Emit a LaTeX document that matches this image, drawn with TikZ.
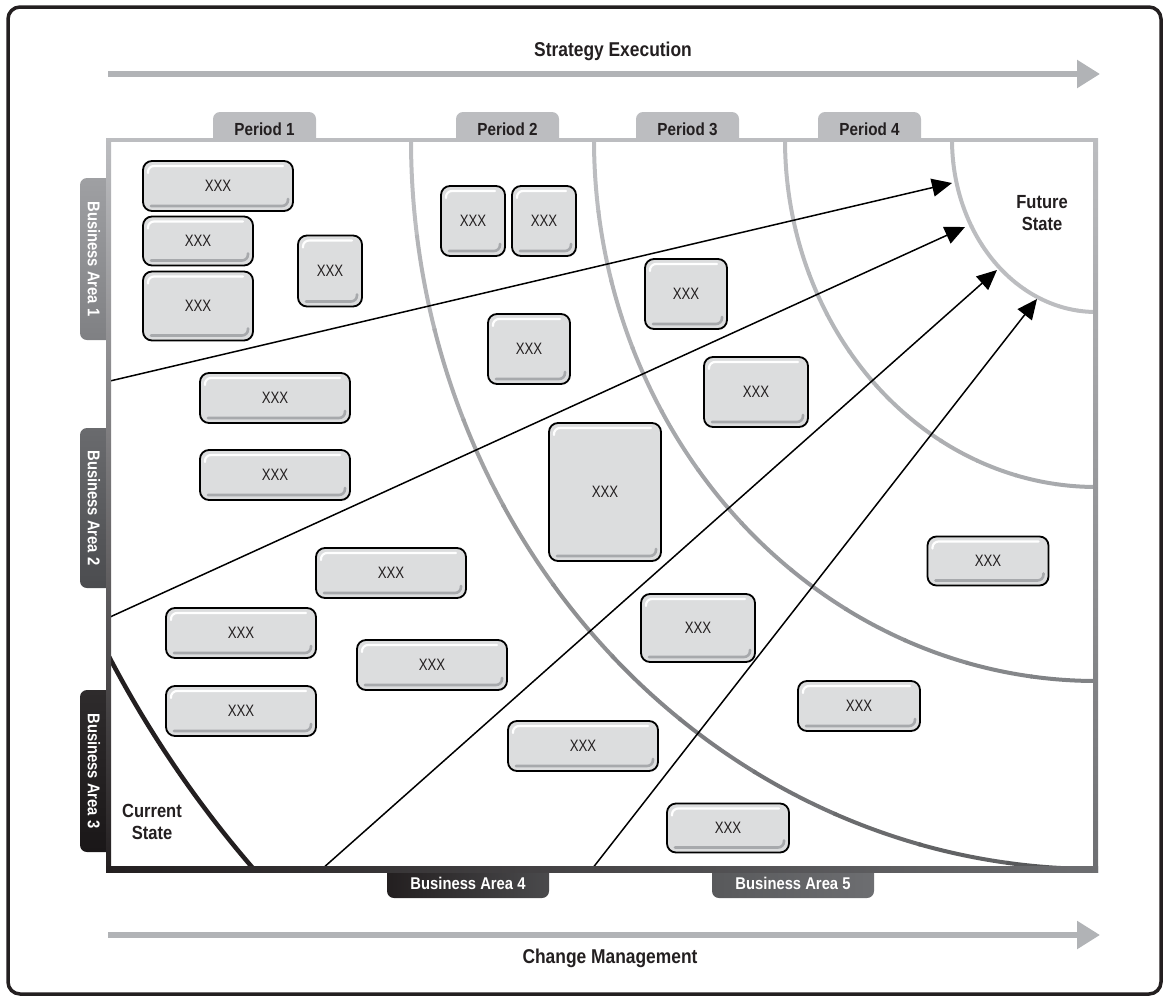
\documentclass[tikz,border=0pt]{standalone}
\usepackage{fontspec}
\setmainfont{Liberation Sans}[FakeStretch=0.8]
\newfontfamily\headfont{Liberation Sans}[FakeStretch=0.87]
\usetikzlibrary{arrows.meta}

\definecolor{framelight}{HTML}{BCBDC0}
\definecolor{framedark}{HTML}{231F20}
\definecolor{framemid}{HTML}{6D6E71}
\definecolor{boxfill}{HTML}{DCDDDE}
\definecolor{boxline}{HTML}{A7A9AC}
\definecolor{arrowgray}{HTML}{B1B3B6}
\definecolor{textdark}{HTML}{231F20}
\definecolor{ring2}{HTML}{58595B}
\definecolor{ring3}{HTML}{808285}
\definecolor{ring4}{HTML}{A7A9AC}
\definecolor{ba1top}{HTML}{9FA0A3}
\definecolor{ba1bot}{HTML}{7F8083}
\definecolor{ba2top}{HTML}{6A6B6E}
\definecolor{ba2bot}{HTML}{4B4C4F}
\definecolor{ba3top}{HTML}{2E2B2C}
\definecolor{ba3bot}{HTML}{1A1718}
\definecolor{ba4a}{HTML}{231F20}
\definecolor{ba4b}{HTML}{4A4A4C}
\definecolor{ba5a}{HTML}{58595B}
\definecolor{ba5b}{HTML}{6D6E71}

\tikzset{
  xbox/.style={draw=black, line width=1.8pt, fill=boxfill, rounded corners=9pt,
    inner sep=0pt, text=textdark, font=\fontsize{16.5}{18}\selectfont,
    path picture={
      \draw[white, line width=2.2pt, line cap=round, rounded corners=6pt]
        ([xshift=5pt,yshift=-12pt]path picture bounding box.north west)
        -- ([xshift=5pt,yshift=-5pt]path picture bounding box.north west)
        -- ([xshift=-10pt,yshift=-5pt]path picture bounding box.north east);
      \draw[boxline, line width=2.6pt, line cap=round, rounded corners=6pt]
        ([xshift=8pt,yshift=5pt]path picture bounding box.south west)
        -- ([xshift=-5pt,yshift=5pt]path picture bounding box.south east)
        -- ([xshift=-5pt,yshift=12pt]path picture bounding box.south east);
    }},
  titletext/.style={font=\headfont\bfseries\fontsize{20}{22}\selectfont, text=textdark},
  tabtext/.style={font=\headfont\bfseries\fontsize{17.5}{19}\selectfont, text=textdark},
  sidetext/.style={font=\headfont\bfseries\fontsize{17}{19}\selectfont, text=white},
  statetext/.style={font=\headfont\bfseries\fontsize{19}{22}\selectfont, text=textdark, align=center},
  flow/.style={line width=5.5pt, arrowgray, -{Triangle[length=23pt,width=27pt]}},
  lead/.style={line width=1.5pt, black, -{Triangle[length=20pt,width=18pt]}}
}

\begin{document}
\begin{tikzpicture}[x=1pt,y=1pt]
\useasboundingbox (0,0) rectangle (1169,-1001);
% outer frame
\draw[line width=3.5pt, framedark, rounded corners=12pt] (8,-7) rectangle (1161,-994);

% strategy execution / change management
\coordinate (se-a) at (108,-74);
\coordinate (se-b) at (1100,-74);
\coordinate (cm-a) at (108,-935);
\coordinate (cm-b) at (1100,-935);
\draw[flow] (se-a) -- (se-b);
\draw[flow] (cm-a) -- (cm-b);
\node[titletext, anchor=base] (se) at (613,-56) {Strategy Execution};
\node[titletext, anchor=base] (cm) at (610,-963) {Change Management};

% period tabs
\foreach \n/\xa/\xb in {1/213/316, 2/456/559, 3/636/739, 4/818/921}
{
  \fill[framelight] (\xa,-141) -- (\xa,-119) arc[start angle=180, end angle=90, radius=7]
    -- ({\xb-7},-112) arc[start angle=90, end angle=0, radius=7] -- (\xb,-141) -- cycle;
  \node[tabtext, anchor=base] (p\n) at ({(\xa+\xb)/2},-135) {Period \n};
}

% business area tabs, left
\foreach \n/\ya/\yb/\ca/\cb in {1/178/340/ba1top/ba1bot, 2/428/588/ba2top/ba2bot, 3/690/852/ba3top/ba3bot}
{
  \shade[top color=\ca, bottom color=\cb] (110,-\ya) -- (87,-\ya)
    arc[start angle=90, end angle=180, radius=7] -- (80,{-\yb+7})
    arc[start angle=180, end angle=270, radius=7] -- (110,-\yb) -- cycle;
  \node[sidetext, rotate=-90] (ba\n) at (94,{-(\ya+\yb)/2}) {Business Area \n};
}

% business area tabs, bottom
\foreach \n/\xa/\xb/\ca/\cb in {4/387/549/ba4a/ba4b, 5/712/874/ba5a/ba5b}
{
  \shade[left color=\ca, right color=\cb] (\xa,-868) -- (\xa,-891)
    arc[start angle=180, end angle=270, radius=7] -- ({\xb-7},-898)
    arc[start angle=270, end angle=360, radius=7] -- (\xb,-868) -- cycle;
  \node[sidetext, anchor=base] (ba\n) at ({(\xa+\xb)/2},-889) {Business Area \n};
}

% rings round the future state
\coordinate (fs) at (1096,-140);
\begin{scope}
  \clip (110,-141) rectangle (1095,-868);
  \draw[line width=4.5pt, framedark] (fs) ++(200:1114) arc[start angle=200, end angle=230, radius=1114];
  \foreach \rx/\ry/\cb in {685/729/ring2, 502/541/ring3, 311/347/ring4, 144/172/framelight}
    \foreach \i in {0,...,11}
    {
      \pgfmathsetmacro\p{100*\i/11}
      \pgfmathsetmacro\ang{180+7.5*\i}
      \draw[line width=4pt, \cb!\p!framelight] (fs) ++({\rx*cos(\ang)},{\ry*sin(\ang)})
        arc[start angle=\ang, end angle={\ang+7.7}, x radius=\rx, y radius=\ry];
    }
\end{scope}

\node[statetext] (future) at (1042,-213) {Future\\State};
\node[statetext] (current) at (152,-822) {Current\\State};

% arrows to the future state
\coordinate (a1) at (110,-381);  \coordinate (t1) at (952,-183);
\coordinate (a2) at (110,-617);  \coordinate (t2) at (965,-227);
\coordinate (a3) at (322,-869);  \coordinate (t3) at (997,-270);
\coordinate (a4) at (592,-869);  \coordinate (t4) at (1037,-299);
\foreach \k in {1,...,4}
  \draw[lead] (a\k) -- (t\k);

% frame
\fill[framelight] (107,-138) rectangle (1097,-142);
\shade[top color=framelight, bottom color=framedark] (106,-138) rectangle (111,-872);
\shade[left color=framedark, right color=framemid] (106,-866) rectangle (1098,-872);
\shade[top color=framelight, bottom color=framemid] (1093,-138) rectangle (1098,-872);

% boxes
\foreach \n/\x/\y/\w/\h in {1/218/186/150/50, 2/198/241/110/49, 3/198/306/110/69,
  4/330/271/64/71, 5/275/398/150/50, 6/275/475/150/50, 7/391/573/150/50,
  8/241/633/150/50, 9/241/711/150/50, 10/432/665/150/50, 11/583/746/150/50,
  12/473/221/64/70, 13/544/221/64/70, 14/529/349/82/70, 15/686/294/82/70,
  16/605/492/112/138, 17/756/392/104/70, 18/698/628/114/68, 19/988/561/121/49,
  20/859/706/122/50, 21/728/828/122/49}
  \node[xbox, minimum width=\w pt, minimum height=\h pt] (b\n) at (\x,-\y) {XXX};
\end{tikzpicture}
\end{document}
